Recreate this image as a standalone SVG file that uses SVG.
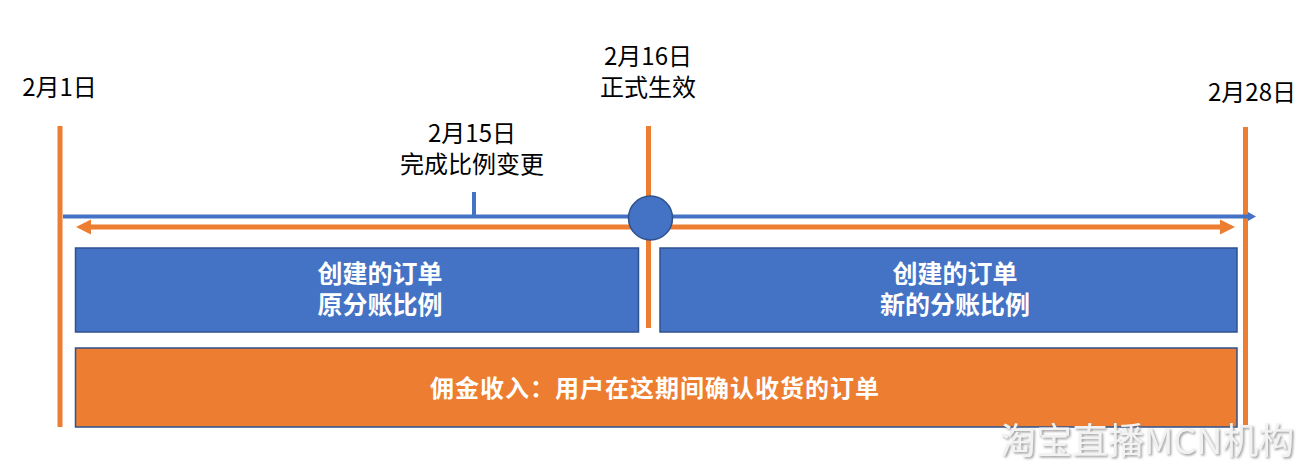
<svg xmlns="http://www.w3.org/2000/svg" width="1310" height="468" viewBox="0 0 1310 468">
  <style>
    .lbl { font-family: "Noto Sans CJK SC", "Noto Sans", sans-serif; font-size: 24px; fill: #000000; text-anchor: middle; }
    .box-txt { font-family: "Noto Sans CJK SC", "Noto Sans", sans-serif; font-size: 25px; font-weight: bold; fill: #ffffff; text-anchor: middle; }
    .wide-txt { font-family: "Noto Sans CJK SC", "Noto Sans", sans-serif; font-size: 24px; font-weight: bold; fill: #ffffff; text-anchor: middle; }
    .bluebox { fill: #4472C4; stroke: #2F528F; stroke-width: 1.5; }
    .orangebox { fill: #ED7D31; stroke: #2F528F; stroke-width: 1.5; }
    .vline { stroke: #ED7D31; stroke-width: 5; fill: none; }
    .timeline { stroke: #4472C4; stroke-width: 4; fill: none; }
    .span { stroke: #ED7D31; stroke-width: 5; fill: none; }
    .wm { font-family: "Noto Sans CJK SC", "Noto Sans", sans-serif; font-size: 36px; fill: #f2f2f2; }
  </style>
  <defs>
    <marker id="orangeHead" markerUnits="userSpaceOnUse" markerWidth="15" markerHeight="16" refX="8" refY="7.5" orient="auto-start-reverse" viewBox="0 0 15 15">
      <path d="M0,0 L15,7.5 L0,15 z" fill="#ED7D31"/>
    </marker>
    <marker id="blueHead" markerUnits="userSpaceOnUse" markerWidth="8" markerHeight="10" refX="0" refY="4.5" orient="auto" viewBox="0 0 8 9">
      <path d="M0,0 L8,4.5 L0,9 z" fill="#4472C4"/>
    </marker>
    <filter id="wmShadow" x="-5%" y="-20%" width="110%" height="150%">
      <feDropShadow dx="1.5" dy="1.5" stdDeviation="1" flood-color="#7f7f7f" flood-opacity="0.8"/>
    </filter>
  </defs>

  <g id="box-before">
    <rect class="bluebox" x="75.5" y="248" width="563" height="84"/>
    <text class="box-txt" x="380" y="283">创建的订单</text>
    <text class="box-txt" x="380" y="314">原分账比例</text>
  </g>
  <g id="box-after">
    <rect class="bluebox" x="660" y="248" width="577" height="84"/>
    <text class="box-txt" x="955" y="283">创建的订单</text>
    <text class="box-txt" x="955" y="314">新的分账比例</text>
  </g>
  <g id="box-commission">
    <rect class="orangebox" x="75.5" y="348" width="1161.5" height="79"/>
    <text class="wide-txt" x="655" y="397" letter-spacing="1">佣金收入：用户在这期间确认收货的订单</text>
  </g>

  <g id="connectors">
    <line id="mark-feb1" class="vline" x1="60" y1="126" x2="60" y2="427"/>
    <line id="mark-feb16" class="vline" x1="648.5" y1="126" x2="648.5" y2="328"/>
    <line id="mark-feb28" class="vline" x1="1245.5" y1="127" x2="1245.5" y2="427"/>
    <line id="span-arrow" class="span" x1="83" y1="227" x2="1228" y2="227" marker-start="url(#orangeHead)" marker-end="url(#orangeHead)"/>
    <line id="timeline" class="timeline" x1="63" y1="216.5" x2="1248" y2="216.5" marker-end="url(#blueHead)"/>
    <line id="tick-feb15" stroke="#4472C4" stroke-width="4" x1="474" y1="192" x2="474" y2="217"/>
  </g>

  <g id="milestone-feb16">
    <circle cx="650.5" cy="218" r="22" fill="#4472C4" stroke="#2F528F" stroke-width="1.5"/>
  </g>

  <g id="label-feb1">
    <text class="lbl" x="59.5" y="96">2月1日</text>
  </g>
  <g id="label-feb15">
    <text class="lbl" x="472" y="142">2月15日</text>
    <text class="lbl" x="472" y="173">完成比例变更</text>
  </g>
  <g id="label-feb16">
    <text class="lbl" x="648" y="65">2月16日</text>
    <text class="lbl" x="648" y="96">正式生效</text>
  </g>
  <g id="label-feb28">
    <text class="lbl" x="1252" y="101">2月28日</text>
  </g>

  <g id="watermark">
    <text class="wm" x="1000" y="454" filter="url(#wmShadow)">淘宝直播MCN机构</text>
  </g>
</svg>
